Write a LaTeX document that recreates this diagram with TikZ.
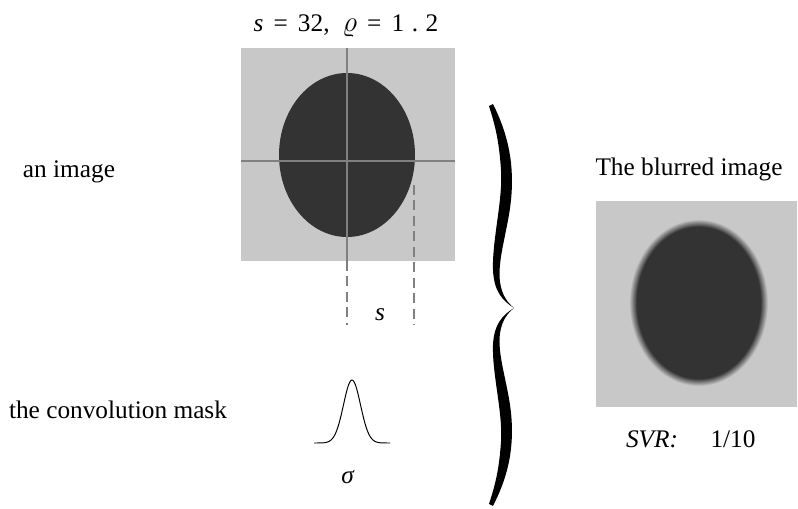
\documentclass[tikz,border=0pt]{standalone}
\usepackage{amssymb,amsmath}
\usepackage{fontspec}
\setmainfont{Liberation Serif}
\usepackage{tikz}

\begin{document}
\begin{tikzpicture}[x=0.025cm, y=-0.025cm]
      % 配色
      \definecolor{imgbg}{RGB}{200,200,200}     % 背景灰
      \definecolor{blob}{RGB}{51,51,51}         % 椭圆深灰
      \definecolor{axisgray}{RGB}{128,128,128}  % 十字线

      % 样式
      \tikzstyle{lbl} = [inner sep=0pt, anchor=base, font=\fontsize{18}{20}\selectfont]
      \tikzstyle{axis} = [draw=axisgray, line width=1.1pt]
      \tikzstyle{guide} = [draw=axisgray, line width=1.1pt, dash pattern=on 7pt off 4pt]

      \useasboundingbox (0,0) rectangle (798,508);

      % 左侧说明
      \node[lbl] (lblimg) at (69,177) {an image};
      \node[lbl] (lblmask) at (118,418) {the convolution mask};

      % 原图
      \node[lbl] (title) at (346,31) {\textit{s}\hspace{.4em}=\hspace{.4em}32,\hspace{.5em}\scalebox{1.2}{$\varrho$}\hspace{.4em}=\hspace{.4em}1\hspace{.3em}.\hspace{.3em}2};
      \fill[imgbg] (241,48) rectangle (455,261);
      \fill[blob] (347,155) ellipse [x radius=68, y radius=82];
      \draw[axis] (347,48) -- (347,261);
      \draw[axis] (241,161) -- (455,161);
      \draw[guide] (347,261) -- (347,325);
      \draw[guide] (414,185) -- (414,325);
      \node[lbl] (slbl) at (380,320) {\textit{s}};

      % 卷积核
      \draw[line width=0.7pt, domain=-38:38, samples=80, smooth]
            plot (352+\x, {443-63*exp(-(\x/8.5)^2/2)});
      \node[lbl] (sigma) at (348,483) {\textit{σ}};

      % 大括号
      \foreach \s in {1,-0.97}
        \fill[black, shift={(0,308)}, yscale=\s]
          (493,-204) .. controls (506,-178) and (515,-148) .. (511,-108)
          .. controls (508,-78) and (497,-48) .. (500,-26)
          .. controls (502,-12) and (508,-5) .. (514,0)
          .. controls (503,-7) and (494,-16) .. (493,-38)
          .. controls (492,-68) and (503,-108) .. (501,-138)
          .. controls (499,-168) and (495,-183) .. (489,-202) -- cycle;

      % 模糊结果
      \node[lbl] (lblblur) at (689,175) {The blurred image};
      \fill[imgbg] (596,201) rectangle (797,407);
      \foreach \i in {0,...,11}
        \pgfmathsetmacro{\d}{3-\i*0.6}
        \pgfmathsetmacro{\m}{8+\i*8}
        \fill[blob!\m!imgbg] (699,303) ellipse [x radius=66+\d, y radius=80+\d];
      \fill[blob] (699,303) ellipse [x radius=62, y radius=76];
      \node[lbl] (svr) at (652,447) {\textit{SVR:}};
      \node[lbl] (ratio) at (733,447) {1/10};
    \end{tikzpicture}
\end{document}
